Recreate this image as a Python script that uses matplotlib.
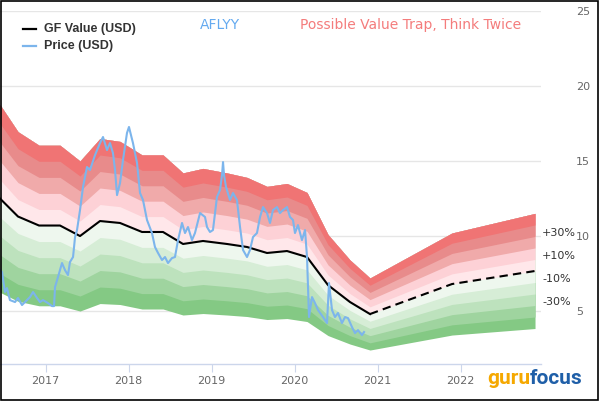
import matplotlib
matplotlib.use("Agg")
import matplotlib.pyplot as plt
from matplotlib.patches import Rectangle
from matplotlib.lines import Line2D
from matplotlib import font_manager
import numpy as np

# ---------------- data ----------------
gf_dates = [2016.450, 2016.667, 2016.920, 2017.173, 2017.414, 2017.655, 2017.896,
            2018.161, 2018.414, 2018.655, 2018.896, 2019.185, 2019.426, 2019.667,
            2019.908, 2020.149, 2020.402, 2020.667, 2020.908, 2021.896, 2022.896]
gf_values = [12.5, 11.3, 10.7, 10.7, 10.0, 11.0, 10.87, 10.27, 10.27, 9.47, 9.67,
             9.47, 9.27, 8.87, 9.0, 8.6, 6.73, 5.6, 4.8, 6.8, 7.67]
gf_last_actual = 2020.908

price_dates = [2016.450, 2016.474, 2016.510, 2016.534, 2016.570, 2016.631, 2016.667, 2016.715,
               2016.751, 2016.811, 2016.848, 2016.896, 2016.932, 2016.968, 2017.028, 2017.077,
               2017.101, 2017.113, 2017.149, 2017.197, 2017.233, 2017.269, 2017.293, 2017.330,
               2017.354, 2017.378, 2017.414, 2017.450, 2017.498, 2017.534, 2017.595, 2017.655,
               2017.691, 2017.739, 2017.775, 2017.811, 2017.836, 2017.860, 2017.896, 2017.932,
               2017.980, 2018.004, 2018.028, 2018.052, 2018.101, 2018.137, 2018.173, 2018.221,
               2018.281, 2018.317, 2018.354, 2018.402, 2018.438, 2018.474, 2018.522, 2018.558,
               2018.595, 2018.643, 2018.679, 2018.715, 2018.763, 2018.799, 2018.860, 2018.920,
               2018.944, 2018.980, 2019.016, 2019.064, 2019.101, 2019.125, 2019.137, 2019.149,
               2019.173, 2019.221, 2019.257, 2019.305, 2019.342, 2019.378, 2019.426, 2019.462,
               2019.498, 2019.546, 2019.583, 2019.619, 2019.667, 2019.703, 2019.739, 2019.787,
               2019.823, 2019.860, 2019.908, 2019.944, 2019.980, 2020.004, 2020.040, 2020.088,
               2020.125, 2020.149, 2020.173, 2020.209, 2020.245, 2020.281, 2020.342, 2020.390,
               2020.414, 2020.450, 2020.486, 2020.522, 2020.570, 2020.607, 2020.643, 2020.691,
               2020.727, 2020.763, 2020.811, 2020.836]
price_values = [7.73, 7.60, 6.27, 6.53, 5.73, 5.60, 5.87, 5.40,
                5.60, 5.93, 6.27, 5.87, 5.60, 5.73, 5.53, 5.33,
                5.33, 6.60, 7.27, 8.20, 7.73, 7.40, 8.27, 8.60,
                9.93, 10.40, 11.73, 13.27, 14.60, 14.40, 15.40, 16.20,
                16.60, 15.73, 16.20, 15.53, 14.40, 12.73, 13.53, 15.07,
                16.87, 17.27, 16.73, 16.20, 14.87, 12.87, 12.40, 11.07,
                10.20, 9.27, 8.87, 8.40, 8.60, 8.20, 8.53, 8.60,
                9.73, 10.87, 10.20, 10.60, 9.73, 10.20, 11.53, 11.27,
                10.60, 10.27, 10.40, 12.60, 13.07, 14.07, 14.93, 14.07,
                13.27, 12.40, 12.87, 12.40, 10.60, 9.07, 8.60, 9.07,
                9.93, 10.20, 11.27, 11.93, 11.53, 10.87, 11.73, 11.93,
                11.53, 11.73, 11.93, 11.27, 11.07, 10.20, 10.73, 9.73,
                10.40, 8.60, 4.60, 5.93, 5.53, 5.07, 4.60, 4.20,
                6.87, 5.07, 4.60, 4.87, 4.20, 4.60, 4.53, 3.93,
                3.53, 3.73, 3.40, 3.60]

band_steps = [-0.5, -0.4, -0.3, -0.2, -0.1, 0.0, 0.1, 0.2, 0.3, 0.4, 0.5]
band_colors = ['#84c984', '#9fd49f', '#bde2bd', '#d6edd6', '#eef7ee',
               '#ffe7ea', '#fdd1d6', '#f0aaaa', '#e88b8b', '#f07474']
band_labels = ['+30%', '+10%', '-10%', '-30%']
band_label_steps = [0.3, 0.1, -0.1, -0.3]
year_ticks = [2017, 2018, 2019, 2020, 2021, 2022]
value_ticks = [5, 10, 15, 20, 25]

# ---------------- figure ----------------
W, H = 600, 420
fig = plt.figure(figsize=(6, 4.2), dpi=100)
ax = fig.add_axes([0.0, 56 / H, 541 / W, (364 - 11) / H])
x0 = 2016.45
x1 = x0 + 541 / 83.0
ax.set_xlim(x0, x1)
ax.set_ylim(1.47, 25.0)

gd = np.array(gf_dates)
gv = np.array(gf_values)
top = gv * (1 + band_steps[-1])
for i in range(len(band_colors)):
    lo = gv * (1 + band_steps[i])
    ax.fill_between(gd, lo, top, color=band_colors[i], lw=0, zorder=1 + i * 0.01)

mask_a = gd <= gf_last_actual + 1e-9
mask_f = gd >= gf_last_actual - 1e-9
ax.plot(gd[mask_a], gv[mask_a], color='black', lw=1.5, zorder=3,
        solid_joinstyle='round')
ax.plot(gd[mask_f], gv[mask_f], color='black', lw=1.5, zorder=3,
        linestyle=(0, (4, 2.5)))
ax.plot(price_dates, price_values, color='#7cb5ec', lw=1.5, zorder=4,
        solid_joinstyle='round')

# axes styling
for s in ['top', 'left', 'right']:
    ax.spines[s].set_visible(False)
ax.spines['bottom'].set_color('#ccd6eb')
ax.spines['bottom'].set_linewidth(1)
ax.set_xticks(year_ticks)
ax.set_xticklabels([str(y) for y in year_ticks])
ax.tick_params(axis='x', direction='out', length=6, width=0.8, color='#ccd6eb',
               labelcolor='#666666', labelsize=8, pad=2.5)
ax.yaxis.tick_right()
ax.set_yticks(value_ticks)
ax.set_yticklabels([str(v) for v in value_ticks])
ax.tick_params(axis='y', length=0, pad=25, labelcolor='#666666', labelsize=8)
ax.grid(axis='y', color='#e6e6e6', lw=1, zorder=0)
ax.set_axisbelow(True)
ax.patch.set_alpha(0)

# band labels at right
gl = gf_values[-1]
for lab, st in zip(band_labels, band_label_steps):
    ax.text(1.0 + 1 / 541, gl * (1 + st) + 0.25, lab, transform=ax.get_yaxis_transform(),
            ha='left', va='center', fontsize=8, color='#333333', clip_on=False)

# legend
def fx(px):
    return px / W

def fy(py):
    return 1 - py / H

fig.add_artist(Line2D([fx(23), fx(36)], [fy(29), fy(29)], color='black', lw=1.6))
fig.add_artist(Line2D([fx(23), fx(36)], [fy(46), fy(46)], color='#7cb5ec', lw=1.6))
fig.text(fx(44), fy(29), 'GF Value (USD)', ha='left', va='center', fontsize=9,
         fontweight='bold', color='#333333', family='Liberation Sans')
fig.text(fx(44), fy(46), 'Price (USD)', ha='left', va='center', fontsize=9,
         fontweight='bold', color='#333333', family='Liberation Sans')

fig.text(fx(200), fy(25), 'AFLYY', ha='left', va='center', fontsize=10,
         color='#64aaf0')
fig.text(fx(300), fy(25), 'Possible Value Trap, Think Twice', ha='left', va='center',
         fontsize=10, color='#f47c7c')

# logo
names = {f.name for f in font_manager.fontManager.ttflist}
logo_font = 'Liberation Sans Narrow' if 'Liberation Sans Narrow' in names else 'Roboto'
t1 = fig.text(fx(487), fy(378), 'guru', ha='left', va='center', fontsize=15,
              fontweight='bold', color='#f5a800', family=logo_font)
fig.canvas.draw()
bb = t1.get_window_extent()
fig.text(bb.x1 / fig.bbox.width, fy(378), 'focus', ha='left', va='center', fontsize=15,
         fontweight='bold', color='#1f5fa8', family=logo_font)

# border
fig.add_artist(Rectangle((0.5 / W, 1 - 400 / H), 597 / W, 400 / H - 0.5 / H,
                         transform=fig.transFigure, fill=False, edgecolor='black',
                         lw=1.2))

fig.savefig('out.png', dpi=100)
